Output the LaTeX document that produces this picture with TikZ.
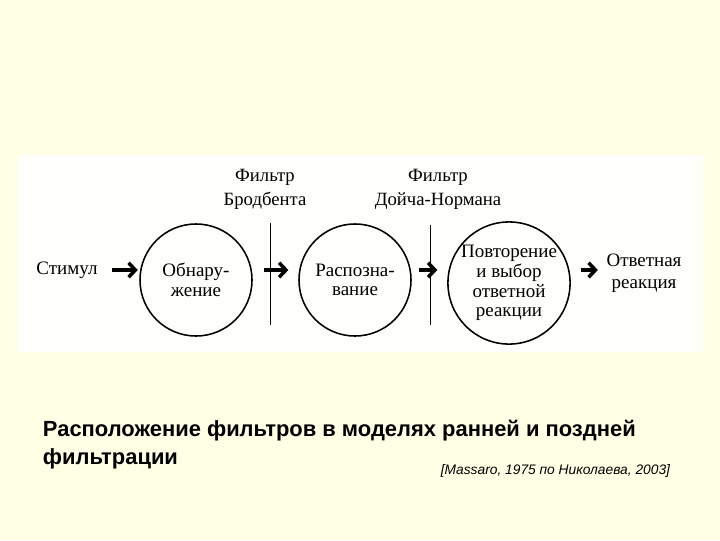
\documentclass[tikz,border=0pt]{standalone}
\usepackage{fontspec}
\setmainfont{Liberation Serif}
\setsansfont{Liberation Sans}
\usetikzlibrary{arrows.meta, positioning, calc}
\definecolor{slideBg}{RGB}{255,255,229}
\definecolor{panelBg}{RGB}{254,254,251}

\begin{document}
\begin{tikzpicture}[
        x=0.025cm, y=-0.025cm,
        stageNode/.style={
            draw=black,
            line width=1.1pt,
            circle,
            minimum size=2.8cm,
            inner sep=0pt,
            align=center,
            font=\fontsize{13.5}{14}\selectfont
        },
        plainText/.style={
            align=center,
            inner sep=2pt,
            font=\fontsize{13.5}{16}\selectfont
        },
        filterText/.style={
            align=center,
            inner sep=2pt,
            font=\fontsize{13.3}{16.5}\selectfont
        },
        flow/.style={
            -{Straight Barb[length=1.7mm, width=3.6mm]},
            line width=2.5pt
        },
        cutLine/.style={
            line width=0.6pt
        }
    ]

        % Slide and picture panel
        \fill[slideBg] (0,0) rectangle (720,540);
        \useasboundingbox (0,0) rectangle (720,540);
        \fill[panelBg] (18,155) rectangle (703,352);

        % Processing stages
        \node[stageNode] (det) at (196,280) {Обнару-\\жение};
        \node[stageNode] (rec) at (355,280) {Распозна-\\вание};
        \node[stageNode, minimum size=2.7cm] (sel) at (509,283)
            {Повторение\\и выбор\\ответной\\реакции};

        % Input and output
        \node[plainText] (stim) at (67,270) {Стимул};
        \node[plainText] (resp) at (644,273) {Ответная\\реакция};

        % Filters
        \node[filterText, anchor=base] (broad) at (265,205)
            {Фильтр\\Бродбента};
        \node[filterText, anchor=base] (deutsch) at (438,205)
            {Фильтр\\Дойча-Нормана};

        \draw[cutLine] (270,223) -- (270,325);
        \draw[cutLine] (430,225) -- (430,325);

        % Flow arrows
        \draw[flow, shorten <=8pt, shorten >=1pt] (stim.east) -- (stim -| det.west);
        \draw[flow, shorten <=8pt, shorten >=7pt] (det.east |- stim) -- (rec.west |- stim);
        \draw[flow, shorten <=5pt, shorten >=7pt] (rec.east |- stim) -- (sel.west |- stim);
        \draw[flow, shorten <=7pt, shorten >=4pt] (sel.east |- stim) -- (resp.west |- stim);

        % Caption
        \node[
            font=\sffamily\bfseries\fontsize{15.6}{20}\selectfont,
            align=left,
            anchor=north west
        ] (title) at (38,415)
        {Расположение фильтров в моделях ранней и поздней\\фильтрации};

        \node[
            font=\sffamily\itshape\fontsize{9.8}{11}\selectfont,
            anchor=east
        ] (source) at (675,471)
        {[Massaro, 1975 по Николаева, 2003]};

    \end{tikzpicture}
\end{document}
